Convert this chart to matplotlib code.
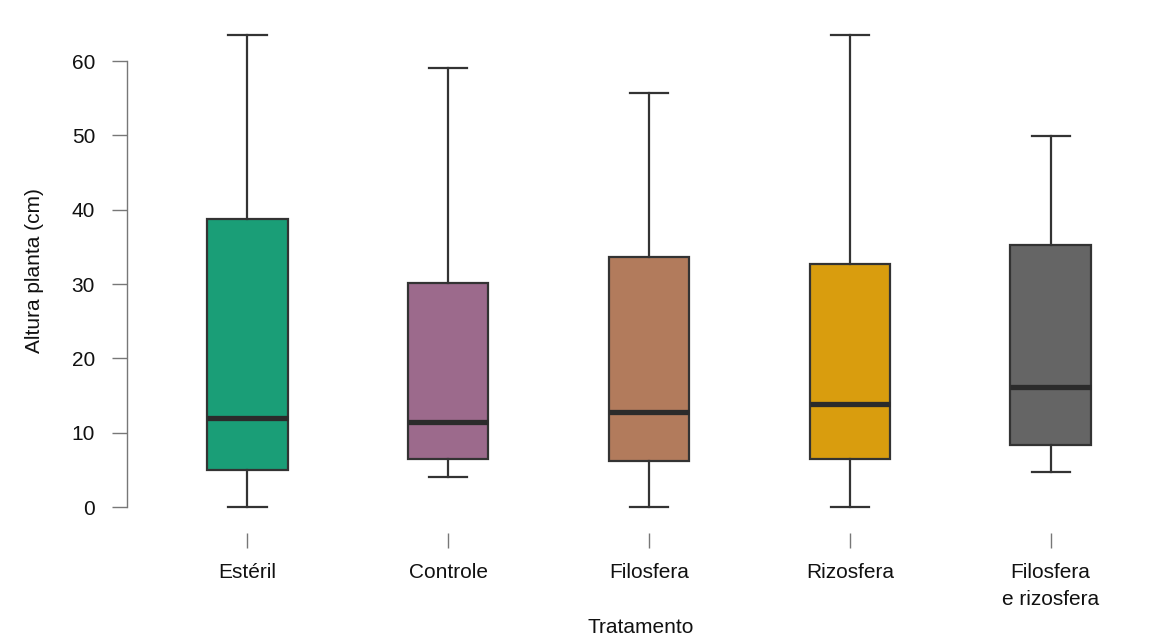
import matplotlib.pyplot as plt

plt.rcParams['font.family'] = ['Liberation Sans', 'DejaVu Sans']

tratamentos = ['Estéril', 'Controle', 'Filosfera', 'Rizosfera', 'Filosfera\ne rizosfera']
minimo = [0.0, 4.0, 0.0, 0.0, 4.7]
q1 = [5.0, 6.5, 6.2, 6.4, 8.3]
mediana = [12.0, 11.5, 12.8, 13.8, 16.1]
q3 = [38.8, 30.1, 33.6, 32.7, 35.2]
maximo = [63.5, 59.1, 55.7, 63.5, 49.9]
cores = ['#1A9E77', '#9C6A8C', '#B27B5C', '#D99D0E', '#656565']

stats = []
for i in range(len(tratamentos)):
    stats.append({'whislo': minimo[i], 'q1': q1[i], 'med': mediana[i],
                  'q3': q3[i], 'whishi': maximo[i], 'fliers': []})

fig = plt.figure(figsize=(11.62, 6.36), dpi=100)
ax = fig.add_axes([127 / 1162, 1 - 525.6 / 636, 1 - 127 / 1162 - 0.006, (525.6 - 16.4) / 636])

linha = '#333333'
bp = ax.bxp(stats, positions=range(1, 6), widths=0.4, patch_artist=True,
            showfliers=False,
            boxprops=dict(edgecolor=linha, linewidth=1.6),
            whiskerprops=dict(color=linha, linewidth=1.6),
            capprops=dict(color=linha, linewidth=1.6),
            medianprops=dict(color='#2b2b2b', linewidth=3.8, solid_capstyle='butt'),
            capwidths=0.19)
for caixa, cor in zip(bp['boxes'], cores):
    caixa.set_facecolor(cor)

ax.set_xlim(0.4, 5.52)
ax.set_ylim(-2.5, 66)

for lado in ['top', 'right']:
    ax.spines[lado].set_visible(False)
ax.spines['left'].set_bounds(0, 60)
ax.spines['left'].set_color('#777777')
ax.spines['left'].set_linewidth(1.0)
ax.spines['bottom'].set_position(('outward', 5))
ax.spines['bottom'].set_visible(False)

tam = 15
ax.set_yticks([0, 10, 20, 30, 40, 50, 60])
ax.set_xticks(range(1, 6))
ax.set_xticklabels(tratamentos, linespacing=1.5)
ax.tick_params(axis='y', direction='out', length=11, width=1.0, color='#777777',
               pad=12, labelsize=tam, labelcolor='#111111')
ax.tick_params(axis='x', direction='out', length=11, width=1.0, color='#777777',
               pad=11, labelsize=tam, labelcolor='#111111')

ax.set_xlabel('Tratamento', fontsize=tam, color='#111111', labelpad=6.5)
ax.set_ylabel('Altura planta (cm)', fontsize=tam, color='#111111', labelpad=20)

fig.savefig('out.png', dpi=100)
